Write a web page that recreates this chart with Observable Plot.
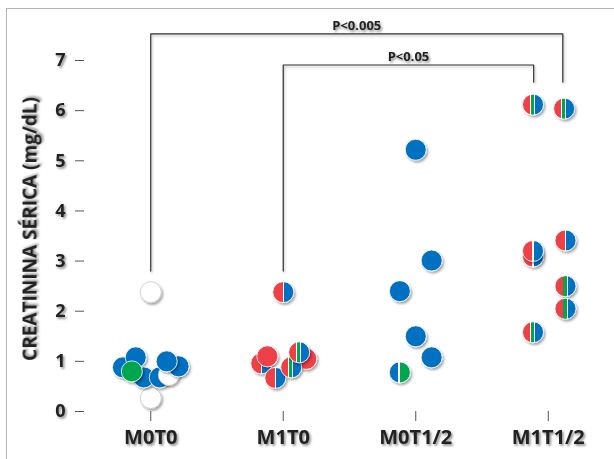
<!DOCTYPE html>
<html><head><meta charset="utf-8">
<script src="https://cdn.jsdelivr.net/npm/d3@7"></script>
<script src="https://cdn.jsdelivr.net/npm/@observablehq/plot@0.6"></script>
<style>
body{margin:0;background:#fff;}
#wrap{position:relative;width:614px;height:459px;overflow:hidden;}
#frame{position:absolute;left:6px;top:8px;right:-4px;bottom:-4px;border-top:1.5px solid #b4b4b4;border-left:1.5px solid #b4b4b4;pointer-events:none;}
#wrap svg{position:absolute;left:0;top:0;}
</style></head><body><div id="wrap"><div id="frame"></div></div>
<script>
const categories = ["M0T0", "M1T0", "M0T1/2", "M1T1/2"];
const yTicks = [0, 1, 2, 3, 4, 5, 6, 7];
const yLabel = "CREATININA SÉRICA (mg/dL)";

// one entry per dot: group index, value (mg/dL), horizontal jitter (in category units), fill pattern
const groups   = [0, 0, 0, 0, 0, 0, 0, 0, 0, 0,
                  1, 1, 1, 1, 1, 1, 1,
                  2, 2, 2, 2, 2, 2,
                  3, 3, 3, 3, 3, 3, 3, 3];
const values   = [2.38, 0.27, 0.88, 1.08, 0.68, 0.68, 0.73, 0.90, 1.00, 0.80,
                  2.38, 0.96, 1.10, 0.67, 1.05, 0.88, 1.18,
                  5.22, 3.01, 2.40, 1.50, 1.08, 0.78,
                  6.12, 6.04, 3.41, 3.09, 3.20, 2.50, 2.05, 1.58];
const jitter   = [0, 0, -0.21, -0.113, -0.053, 0.068, 0.136, 0.21, 0.12, -0.143,
                  0, -0.166, -0.12, -0.06, 0.174, 0.06, 0.12,
                  0, 0.12, -0.12, 0, 0.12, -0.12,
                  -0.115, 0.12, 0.13, -0.115, -0.115, 0.13, 0.13, -0.115];
const patterns = ["white", "white", "blue", "blue", "blue", "blue", "white", "blue", "blue", "green",
                  "rb", "rb", "red", "rb", "red", "rgb", "rgb",
                  "blue", "blue", "blue", "blue", "blue", "bg",
                  "rgb", "rgb", "rb", "rb", "rb", "rgb", "rgb", "rgb"];
const medians  = [0.85, 1.07, 1.96, 3.16];

const brackets = [
  {label: "P<0.005", from: 0, to: 3.11, top: 7.53, leftEnd: 2.8, rightEnd: 6.57},
  {label: "P<0.05",  from: 1, to: 2.89, top: 6.91, leftEnd: 2.8, rightEnd: 6.57}
];

const fills = {white: "#ffffff", blue: "#0070C0", green: "#00A650", red: "#EE4046",
               rb: "url(#g-rb)", rgb: "url(#g-rgb)", bg: "url(#g-bg)"};

const dots = values.map((v, i) => ({x: groups[i] + jitter[i], y: v, p: patterns[i]}));
const medianRows = medians.map((m, i) => ({i, m}));
const bracketPts = brackets.flatMap(b => [
  {k: b.label, x: b.from, y: b.leftEnd},
  {k: b.label, x: b.from, y: b.top},
  {k: b.label, x: b.to, y: b.top},
  {k: b.label, x: b.to, y: b.rightEnd}
]);

const chart = Plot.plot({
  width: 614, height: 459,
  marginLeft: 84, marginRight: 0, marginTop: 60, marginBottom: 48,
  style: {fontFamily: "'Open Sans', 'DejaVu Sans', sans-serif", background: "transparent", overflow: "visible", color: "#222"},
  x: {domain: [-0.5, 3.5], axis: null},
  y: {domain: [0, 7], axis: null},
  color: {type: "identity"},
  marks: [
    Plot.ruleX([-0.5], {y1: 0, y2: 7, stroke: "#555", strokeWidth: 1.5}),
    Plot.ruleY([0], {insetLeft: -11, stroke: "#555", strokeWidth: 1.5}),
    Plot.axisY(yTicks, {tickSize: 9, tickPadding: 10, tickFormat: d3.format("d"), fontSize: 18, fontWeight: "bold", label: null, stroke: "#555", fill: "#222"}),
    Plot.axisX([0, 1, 2, 3], {tickFormat: i => categories[i], tickSize: 10, tickPadding: 8, fontSize: 20, fontWeight: "bold", label: null, stroke: "#555", fill: "#222"}),
    Plot.text([yLabel], {text: d => d, frameAnchor: "left", textAnchor: "middle", rotate: -90, dx: -54, dy: -7, fontSize: 19, fontWeight: "bold", fill: "#222"}),
    Plot.line(bracketPts, {x: "x", y: "y", z: "k", stroke: "#333", strokeWidth: 1.2, curve: "linear"}),
    Plot.text(brackets, {x: b => (b.from + b.to) / 2, y: "top", text: "label", dy: -4, lineAnchor: "bottom", fontSize: 13, fontWeight: "bold", fill: "#222"}),
    Plot.dot(dots, {x: "x", y: "y", r: 10.5, fill: d => fills[d.p], stroke: d => d.p === "white" ? "#c8c8c8" : "#ffffff", strokeWidth: 0.8, fillOpacity: 1}),
    Plot.ruleY(medianRows, {y: "m", x1: d => d.i - 0.34, x2: d => d.i + 0.34, stroke: "#222", strokeWidth: 1.4})
  ]
});

const svg = d3.select(chart);
const defs = svg.insert("defs", ":first-child");
function grad(id, stops) {
  const g = defs.append("linearGradient").attr("id", id).attr("x1", 0).attr("x2", 1).attr("y1", 0).attr("y2", 0);
  stops.forEach(([a, b, c]) => {
    g.append("stop").attr("offset", a).attr("stop-color", c);
    g.append("stop").attr("offset", b).attr("stop-color", c);
  });
}
grad("g-rb",  [[0, 0.47, "#EE4046"], [0.47, 0.53, "#ffffff"], [0.53, 1, "#0070C0"]]);
grad("g-rgb", [[0, 0.36, "#EE4046"], [0.36, 0.40, "#ffffff"], [0.40, 0.56, "#00A650"], [0.56, 0.60, "#ffffff"], [0.60, 1, "#0070C0"]]);
grad("g-bg",  [[0, 0.42, "#0070C0"], [0.42, 0.49, "#ffffff"], [0.49, 1, "#00A650"]]);
const f1 = defs.append("filter").attr("id", "dshadow").attr("x", "-40%").attr("y", "-40%").attr("width", "180%").attr("height", "180%");
f1.append("feDropShadow").attr("dx", 1.6).attr("dy", 2).attr("stdDeviation", 1).attr("flood-color", "#000").attr("flood-opacity", 0.35);
const f2 = defs.append("filter").attr("id", "tshadow").attr("x", "-20%").attr("y", "-30%").attr("width", "140%").attr("height", "160%");
f2.append("feDropShadow").attr("dx", 1.5).attr("dy", 1.8).attr("stdDeviation", 1.1).attr("flood-color", "#000").attr("flood-opacity", 0.45);
const f3 = defs.append("filter").attr("id", "lshadow").attr("x", "-10%").attr("y", "-200%").attr("width", "120%").attr("height", "500%");
f3.append("feDropShadow").attr("dx", 1).attr("dy", 1.5).attr("stdDeviation", 0.8).attr("flood-color", "#000").attr("flood-opacity", 0.3);

svg.selectAll("circle").attr("filter", "url(#dshadow)");
svg.selectAll("text").attr("filter", "url(#tshadow)");
svg.selectAll("g[aria-label='rule'] line, g[aria-label='line'] path").attr("filter", "url(#lshadow)");

document.getElementById("wrap").appendChild(chart);
</script>
</body></html>
